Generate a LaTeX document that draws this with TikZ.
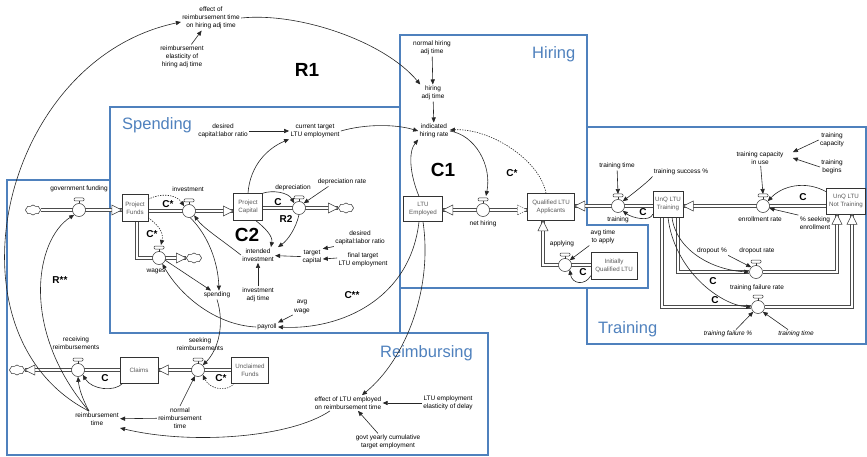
\documentclass[tikz,border=0pt]{standalone}
\usepackage{fontspec}
\setmainfont{Liberation Sans}
\usetikzlibrary{arrows.meta,shapes.symbols,calc}
\pgfdeclarelayer{back}
\pgfsetlayers{back,main}
\definecolor{panelblue}{RGB}{79,129,189}
\tikzset{
  lbl/.style={font=\fontsize{6.5}{8.2}\selectfont, align=center, inner sep=1.2pt},
  ilbl/.style={lbl, font=\fontsize{6.5}{8.2}\selectfont\itshape},
  stock/.style={draw=black!80, fill=white, line width=0.5pt, align=center,
    font=\fontsize{6.2}{7.8}\selectfont, inner sep=0pt, text=black!65},
  valve/.style={circle, draw=black!80, fill=white, line width=0.5pt, minimum size=13pt, inner sep=0pt},
  cloudy/.style={cloud, cloud puffs=8, cloud puff arc=110, cloud ignores aspect, draw=black!80,
    fill=white, line width=0.5pt, minimum width=15pt, minimum height=10pt, inner sep=0pt},
  pol/.style={font=\bfseries\fontsize{10}{10}\selectfont, inner sep=0pt},
  bigpol/.style={font=\bfseries\fontsize{19}{19}\selectfont, inner sep=0pt},
  ttl/.style={font=\fontsize{16.5}{16.5}\selectfont, text=panelblue, inner sep=0pt, anchor=base west},
  panel/.style={draw=panelblue, line width=2.4pt, line join=miter},
  conn/.style={draw=black!85, line width=0.6pt, -{Triangle[length=5pt,width=4.2pt]}},
  dconn/.style={conn, dash pattern=on 1.3pt off 1.2pt},
  pipe/.style={draw=black!70, double=white, line width=0.5pt, double distance=2.2pt, line join=miter},
  tap/.pic={\draw[black!80, line width=0.5pt] (0pt,6.5pt) -- (0pt,9pt);
            \draw[black!80, fill=white, line width=0.5pt, rounded corners=1pt] (-5pt,9pt) rectangle (5pt,12pt);},
  harr/.pic={\draw[black!75, fill=white, line width=0.5pt, line join=miter] (0pt,0pt) -- (-10pt,5pt) -- (-10pt,-5pt) -- cycle;},
  harrd/.pic={\draw[black!60, fill=white, line width=0.5pt, dash pattern=on 1.2pt off 1pt] (0pt,0pt) -- (-10pt,5pt) -- (-10pt,-5pt) -- cycle;},
}
\begin{document}
\begin{tikzpicture}[x=1pt,y=-1pt]
\useasboundingbox (0,0) rectangle (867,457);

% ---------------- panel titles
\node[ttl] (tsp) at (122,130) {Spending};
\node[ttl] (thi) at (532,59) {Hiring};
\node[ttl] (ttr) at (598,333) {Training};
\node[ttl] (tre) at (380,357) {Reimbursing};

% ---------------- loop markers
\node[bigpol] (mR1) at (307,70) {R1};
\node[bigpol] (mC1) at (443,170) {C1};
\node[bigpol] (mC2) at (247,235) {C2};
\node[pol] (mCs1) at (168,204) {C*};
\node[pol] (mCs2) at (152,234) {C*};
\node[pol] (mCdep) at (278,202) {C};
\node[pol] (mR2) at (286,219) {R2};
\node[pol] (mCss) at (352,295) {C**};
\node[pol] (mCs3) at (512,173) {C*};
\node[pol] (mCapp) at (583,272) {C};
\node[pol] (mCtr) at (643,212) {C};
\node[pol] (mCer) at (803,197) {C};
\node[pol] (mCdr) at (713,281) {C};
\node[pol] (mCtf) at (715,300) {C};
\node[pol] (mCrr) at (105,378) {C};
\node[pol] (mCs4) at (221,378) {C*};
\node[pol] (mRss) at (60,280) {R**};

% ---------------- stocks
\node[stock, minimum width=26pt, minimum height=27pt] (pf) at (135,208) {Project\\Funds};
\node[stock, minimum width=29pt, minimum height=27pt] (pc) at (248,207) {Project\\Capital};
\node[stock, minimum width=39pt, minimum height=25pt] (emp) at (423,209) {LTU\\Employed};
\node[stock, minimum width=47pt, minimum height=27pt] (qla) at (551,207) {Qualified LTU\\Applicants};
\node[stock, minimum width=46pt, minimum height=27pt] (iql) at (614,266) {Initially\\Qualified LTU};
\node[stock, minimum width=30pt, minimum height=26pt] (uqt) at (668,204) {UnQ LTU\\Training};
\node[stock, minimum width=39pt, minimum height=26pt] (uqn) at (846,201) {UnQ LTU\\Not Training};
\node[stock, minimum width=38pt, minimum height=26pt] (cl) at (139,370) {Claims};
\node[stock, minimum width=37pt, minimum height=26pt] (uf) at (250,370) {Unclaimed\\Funds};

% ---------------- valves
\node[valve] (vgov) at (79,210) {};
\node[valve] (vinv) at (189,211) {};
\node[valve] (vdep) at (299,208) {};
\node[valve] (vwag) at (159,258) {};
\node[valve] (vnh) at (483,210) {};
\node[valve] (vapp) at (565,265) {};
\node[valve] (vtr) at (618,206) {};
\node[valve] (ver) at (763,206) {};
\node[valve] (vdr) at (756,272) {};
\node[valve] (vtf) at (758,307) {};
\node[valve] (vrr) at (78,370) {};
\node[valve] (vsr) at (198,370) {};
\foreach \v in {vgov,vinv,vdep,vwag,vnh,vapp,vtr,ver,vdr,vtf,vrr,vsr} {\pic at (\v) {tap};}

% ---------------- sources and sinks
\node[cloudy] (cl1) at (33,210) {};
\node[cloudy] (cl2) at (346,208) {};
\node[cloudy] (cl3) at (194,258) {};
\node[cloudy] (cl4) at (17,370) {};

% ---------------- flow labels
\node[lbl] (lgov) at (79,189) {government funding};
\node[lbl] (linv) at (188,189) {investment};
\node[lbl] (ldep) at (293,188) {depreciation};
\node[lbl] (lwag) at (156,271) {wages};
\node[lbl] (lnh) at (483,224) {net hiring};
\node[lbl] (lapp) at (562,244) {applying};
\node[lbl] (ltr) at (618,220) {training};
\node[lbl] (ler) at (760,219) {enrollment rate};
\node[lbl] (ldr) at (757,251) {dropout rate};
\node[lbl] (ltf) at (757,288) {training failure rate};
\node[lbl] (lrr) at (76,343) {receiving\\reimbursements};
\node[lbl] (lsr) at (200,344) {seeking\\reimbursements};

% ---------------- auxiliaries
\node[lbl] (effrh) at (211,18) {effect of\\reimbursement time\\on hiring adj time};
\node[lbl] (relas) at (182,57) {reimbursement\\elasticity of\\hiring adj time};
\node[lbl] (nhat) at (432,48) {normal hiring\\adj time};
\node[lbl] (hat) at (433,93) {hiring\\adj time};
\node[lbl] (ihr) at (434,131) {indicated\\hiring rate};
\node[lbl] (ctle) at (315,131) {current target\\LTU employment};
\node[lbl] (dclr1) at (223,131) {desired\\capital:labor ratio};
\node[lbl] (drate) at (342,182) {depreciation rate};
\node[lbl] (ii) at (258,255) {intended\\investment};
\node[lbl] (tcap) at (312,257) {target\\capital};
\node[lbl] (dclr2) at (360,238) {desired\\capital:labor ratio};
\node[lbl] (flte) at (363,260) {final target\\LTU employment};
\node[lbl] (iat) at (258,295) {investment\\adj time};
\node[lbl] (awage) at (302,307) {avg\\wage};
\node[lbl] (pay) at (267,327) {payroll};
\node[lbl] (spend) at (217,295) {spending};
\node[lbl] (atta) at (603,237) {avg time\\to apply};
\node[lbl] (ttime) at (617,166) {training time};
\node[lbl] (tsucc) at (681,172) {training success \%};
\node[lbl] (tciu) at (760,158) {training capacity\\in use};
\node[lbl] (tcapa) at (832,140) {training\\capacity};
\node[lbl] (tbeg) at (832,167) {training\\begins};
\node[lbl] (pseek) at (815,223) {\% seeking\\enrollment};
\node[lbl] (dpct) at (712,251) {dropout \%};
\node[ilbl] (tfpct) at (728,334) {training failure \%};
\node[ilbl] (ttime2) at (796,334) {training time};
\node[lbl] (rtime) at (97,419) {reimbursement\\time};
\node[lbl] (nrt) at (180,418) {normal\\reimbursement\\time};
\node[lbl] (elre) at (348,403) {effect of LTU employed\\on reimbursement time};
\node[lbl] (lee) at (448,403) {LTU employment\\elasticity of delay};
\node[lbl] (gyc) at (388,442) {govt yearly cumulative\\target employment};

% ---------------- panels and pipes behind the symbols
\begin{pgfonlayer}{back}
\draw[panel] (110,180) -- (7,180) -- (7,455) -- (488,455) -- (488,333) -- (400,333);
\draw[panel] (110,107) rectangle (400,333);
\draw[panel] (400,35) -- (587,35) -- (587,225) -- (648,225) -- (648,288) -- (400,288) -- cycle;
\draw[panel] (587,127) -- (866,127) -- (866,344) -- (587,344) -- (587,288);

\draw[pipe] (cl1) -- (pf.west |- vgov);
\draw[pipe] (pf.east |- vinv) -- (pc.west |- vinv);
\draw[pipe] (pc.east |- vdep) -- (cl2.west |- vdep);
\draw[pipe] ([xshift=2pt]pf.south) |- (cl3.west);
\draw[pipe] (emp.east |- vnh) -- (qla.west |- vnh);
\draw[pipe] (qla.east |- vtr) -- (uqt.west |- vtr);
\draw[pipe] (iql.west |- vapp) -| ([xshift=-8pt]qla.south);
\draw[pipe] (uqn.west |- ver) -- (uqt.east |- ver);
\draw[pipe] ([xshift=10pt]uqt.south) |- (vdr) -| ([xshift=-9pt]uqn.south);
\draw[pipe] ([xshift=-6pt]uqt.south) |- (vtf) -| ([xshift=6pt]uqn.south);
\draw[pipe] (uf.west |- vsr) -- (cl.east |- vsr);
\draw[pipe] (cl.west |- vrr) -- (cl4.east |- vrr);
\end{pgfonlayer}

% ---------------- pipe heads
\pic at (pf.west |- vgov) {harr};
\pic at (pc.west |- vinv) {harr};
\pic at (cl2.west |- vdep) {harr};
\pic at (cl3.west) {harr};
\pic[rotate=180] at (emp.east |- vnh) {harr};
\pic at (qla.west |- vnh) {harrd};
\pic[rotate=180] at (qla.east |- vtr) {harr};
\pic[rotate=90] at ([xshift=-8pt]qla.south) {harr};
\pic[rotate=180] at (uqt.east |- ver) {harr};
\pic[rotate=90] at ([xshift=-9pt]uqn.south) {harr};
\pic[rotate=90] at ([xshift=6pt]uqn.south) {harr};
\pic[rotate=180] at (cl.east |- vsr) {harr};
\pic[rotate=180] at (cl4.east |- vrr) {harr};

% ---------------- information links: top and hiring
\draw[conn] (relas) -- (effrh);
\draw[conn] (effrh.east) .. controls (300,12) and (385,42) .. (hat.north west);
\draw[conn] ([xshift=-8pt]rtime.north) .. controls (-60,335) and (0,60) .. ([yshift=-4pt]effrh.west);
\draw[conn] (nhat) -- (hat);
\draw[conn] (hat) -- (ihr);
\draw[conn] (dclr1) -- (ctle);
\draw[conn] (ctle.east) .. controls (365,124) and (395,124) .. (ihr.west);
\draw[conn] ([xshift=-4pt]emp.north) .. controls (410,175) and (408,152) .. (ihr.south west);
\draw[conn] (ihr.east) .. controls (475,135) and (492,165) .. ([xshift=3pt,yshift=14pt]vnh.center);
\draw[dconn] ([xshift=-5pt]qla.north) .. controls (540,160) and (490,128) .. ([yshift=1pt]ihr.east);
\draw[conn] (atta.south west) -- (vapp.north east);
\draw[conn] ([yshift=4pt]iql.south west) .. controls (585,286) and (572,284) .. (vapp.south east);

% ---------------- spending
\draw[conn] (pc.north) .. controls (250,165) and (268,148) .. (ctle.south west);
\draw[dconn] ([yshift=-5pt]pf.north east) .. controls (160,193) and (176,194) .. (vinv.north west);
\draw[dconn] ([yshift=4pt]pf.south east) .. controls (158,225) and (164,232) .. ([xshift=2pt,yshift=13pt]vwag.center);
\draw[conn] (pc.north east) .. controls (272,190) and (288,192) .. (vdep.north west);
\draw[conn] ([xshift=12pt]drate.south west) -- (vdep.north east);
\draw[conn] ([xshift=8pt]pc.south) .. controls (265,228) and (273,236) .. ([xshift=13pt]ii.north);
\draw[conn] (vdep.south) .. controls (296,228) and (288,240) .. ([xshift=20pt]ii.north);
\draw[conn] (tcap) -- (ii);
\draw[conn] (dclr2.south west) -- (tcap.north east);
\draw[conn] ([yshift=2pt]flte.west) -- ([yshift=-2pt]tcap.east);
\draw[conn] (iat) -- (ii);
\draw[conn] (ii.west) .. controls (222,240) and (203,228) .. (vinv.320);
\draw[conn] (vinv.280) .. controls (208,235) and (218,262) .. ([xshift=2pt]spend.north);
\draw[conn] (vwag.340) -- ([xshift=-6pt]spend.north);
\draw[conn] (pay.west) .. controls (215,325) and (180,295) .. (vwag.300);
\draw[conn] (awage.south west) -- (pay.north east);
\draw[conn] ([xshift=-4pt]emp.south) .. controls (410,300) and (340,330) .. (pay.east);
\draw[conn] (spend.south) .. controls (225,325) and (218,350) .. (vsr.north east);

% ---------------- training
\draw[conn] (ttime) -- ([yshift=12pt]vtr.center);
\draw[conn] (tsucc.south west) .. controls (650,180) and (635,192) .. (vtr.north east);
\draw[conn] ([yshift=3pt]uqt.south west) .. controls (650,222) and (632,218) .. (vtr.south east);
\draw[conn] (tciu) -- ([yshift=12pt]ver.center);
\draw[conn] (tcapa.west) -- ([xshift=8pt,yshift=-2pt]tciu.north east);
\draw[conn] (tbeg.west) -- ([xshift=8pt]tciu.east);
\draw[conn] ([yshift=-4pt]uqn.north west) .. controls (805,180) and (782,186) .. (ver.north east);
\draw[conn] (pseek.north west) -- (ver.-20);
\draw[conn] (dpct.south east) -- (vdr.north west);
\draw[conn] ([xshift=4pt]uqt.south) .. controls (676,250) and (712,270) .. (vdr.west);
\draw[conn] (uqt.south) .. controls (674,270) and (720,305) .. (vtf.west);
\draw[conn] ([xshift=8pt]tfpct.north) -- (vtf.south west);
\draw[conn] ([xshift=-8pt]ttime2.north) -- (vtf.south east);

% ---------------- reimbursing
\draw[conn] ([xshift=-8pt]rtime.north) .. controls (20,330) and (35,240) .. (vgov.south west);
\draw[conn] ([xshift=-8pt]rtime.north) .. controls (82,398) and (79,388) .. (vrr.south);
\draw[conn] (nrt) -- (rtime);
\draw[conn] (nrt.north) -- (vsr);
\draw[conn] ([xshift=-18pt]elre.south) .. controls (290,438) and (190,445) .. ([yshift=-9pt]rtime.east);
\draw[conn] (lee) -- (elre);
\draw[conn] ([xshift=-10pt]gyc.north) -- ([xshift=10pt]elre.south);
\draw[conn] (emp.south) .. controls (433,290) and (405,360) .. ([xshift=14pt]elre.north);
\draw[conn] ([xshift=3pt]cl.south west) .. controls (115,392) and (92,390) .. (vrr.south east);
\draw[dconn] ([xshift=3pt]uf.south west) .. controls (228,392) and (210,390) .. (vsr.south east);
\end{tikzpicture}
\end{document}
